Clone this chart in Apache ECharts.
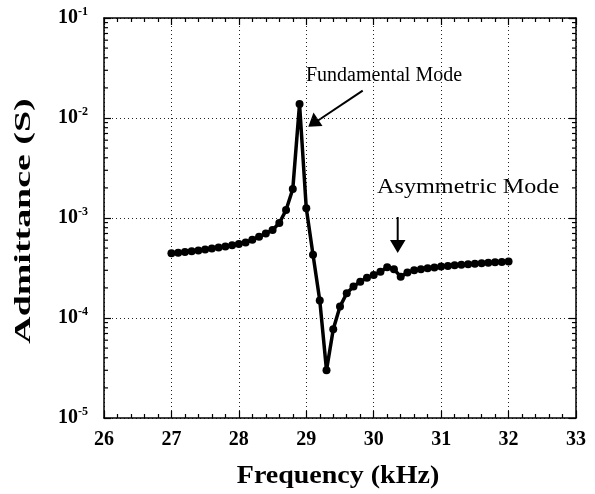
<!DOCTYPE html>
<html><head><meta charset="utf-8">
<script src="https://cdn.jsdelivr.net/npm/echarts@6/dist/echarts.min.js"></script>
<style>html,body{margin:0;padding:0;background:#fff}#c{width:595px;height:494px}</style>
</head><body><div id="c"></div>
<script>
const freq = [27.0,27.1,27.2,27.3,27.4,27.5,27.6,27.7,27.8,27.9,
  28.0,28.1,28.2,28.3,28.4,28.5,28.6,28.7,28.8,28.9,
  29.0,29.1,29.2,29.3,29.4,29.5,29.6,29.7,29.8,29.9,
  30.0,30.1,30.2,30.3,30.4,30.5,30.6,30.7,30.8,30.9,
  31.0,31.1,31.2,31.3,31.4,31.5,31.6,31.7,31.8,31.9,32.0];
const admittance = [4.43e-4,4.50e-4,4.57e-4,4.65e-4,4.74e-4,4.84e-4,4.95e-4,5.07e-4,5.20e-4,5.33e-4,
  5.48e-4,5.70e-4,6.05e-4,6.50e-4,7.00e-4,7.60e-4,8.90e-4,1.20e-3,1.95e-3,1.38e-2,
  1.25e-3,4.30e-4,1.50e-4,3.00e-5,7.70e-5,1.30e-4,1.77e-4,2.06e-4,2.31e-4,2.53e-4,
  2.69e-4,2.90e-4,3.21e-4,3.07e-4,2.59e-4,2.85e-4,3.00e-4,3.08e-4,3.15e-4,3.20e-4,
  3.27e-4,3.32e-4,3.37e-4,3.41e-4,3.45e-4,3.49e-4,3.53e-4,3.57e-4,3.60e-4,3.63e-4,3.67e-4];
const xTicks = [26,27,28,29,30,31,32,33];
const yDecades = [-5,-4,-3,-2,-1];
const xTitle = 'Frequency (kHz)';
const yTitle = 'Admittance (S)';
const noteFund = 'Fundamental Mode';
const noteAsym = 'Asymmetric Mode';

const serif = '"Liberation Serif","Times New Roman",serif';
const minorY = [];
for (let e = yDecades[0]; e < yDecades[yDecades.length-1]; e++) {
  for (let k = 2; k <= 9; k++) minorY.push(k * Math.pow(10, e));
}
const chart = echarts.init(document.getElementById('c'));
const axisCommon = {
  axisLine:{show:true,lineStyle:{color:'#000',width:1.5}},
  axisTick:{show:true,inside:true,length:7,lineStyle:{color:'#000',width:1.2}}
};
chart.setOption({
  animation:false,
  grid:{left:104,right:19,top:18,bottom:76},
  xAxis:[
    Object.assign({type:'value',min:xTicks[0],max:xTicks[xTicks.length-1],interval:1,position:'bottom',
      minorTick:{show:true,splitNumber:5,length:4,lineStyle:{color:'#000',width:1.2}},
      axisLabel:{color:'#000',fontFamily:serif,fontWeight:'bold',fontSize:20,margin:12},
      splitLine:{show:true,lineStyle:{color:'#222',type:[1,3],width:1}}},axisCommon),
    Object.assign({type:'value',min:xTicks[0],max:xTicks[xTicks.length-1],interval:1,position:'top',
      minorTick:{show:true,splitNumber:5,length:4,lineStyle:{color:'#000',width:1.2}},
      axisLabel:{show:false},splitLine:{show:false}},axisCommon)
  ],
  yAxis:[
    Object.assign({type:'log',logBase:10,min:Math.pow(10,yDecades[0]),max:Math.pow(10,yDecades[yDecades.length-1]),position:'left',
      axisLabel:{margin:16,formatter:function(v){const e=Math.round(Math.log10(v));return '{b|10}{s|'+e+'}';},
        rich:{b:{color:'#000',fontFamily:serif,fontWeight:'bold',fontSize:20},
              s:{color:'#000',fontFamily:serif,fontWeight:'bold',fontSize:12,verticalAlign:'top',padding:[0,0,12,0]}}},
      splitLine:{show:true,lineStyle:{color:'#222',type:[1,3],width:1}}},axisCommon),
    Object.assign({type:'log',logBase:10,min:Math.pow(10,yDecades[0]),max:Math.pow(10,yDecades[yDecades.length-1]),position:'right',
      axisLabel:{show:false},splitLine:{show:false}},axisCommon)
  ],
  series:[
    {type:'custom',xAxisIndex:0,yAxisIndex:0,silent:true,clip:false,z:5,
     data:minorY.map(v=>[xTicks[0],v]),
     renderItem:function(params,api){
       const v=api.value(1);
       const pl=api.coord([xTicks[0],v]);
       const pr=api.coord([xTicks[xTicks.length-1],v]);
       return {type:'group',children:[
         {type:'line',shape:{x1:pl[0],y1:pl[1],x2:pl[0]+4,y2:pl[1]},style:{stroke:'#000',lineWidth:1.2}},
         {type:'line',shape:{x1:pr[0],y1:pr[1],x2:pr[0]-4,y2:pr[1]},style:{stroke:'#000',lineWidth:1.2}}
       ]};
     }},
    {type:'line',xAxisIndex:0,yAxisIndex:0,data:freq.map((f,i)=>[f,admittance[i]]),z:3,
     symbol:'circle',symbolSize:8,showSymbol:true,
     lineStyle:{color:'#000',width:3.5},itemStyle:{color:'#000'}}
  ],
  graphic:[
    {type:'text',x:24,y:221,rotation:Math.PI/2,scaleX:1.58,
     style:{text:yTitle,font:'bold 24px '+serif,fill:'#000',align:'center',verticalAlign:'middle'}},
    {type:'text',x:338,y:477,scaleX:1.12,
     style:{text:xTitle,font:'bold 25px '+serif,fill:'#000',align:'center',verticalAlign:'middle'}},
    {type:'text',x:306,y:76,
     style:{text:noteFund,font:'20px '+serif,fill:'#000',align:'left',verticalAlign:'middle'}},
    {type:'text',x:377,y:187,scaleX:1.1,
     style:{text:noteAsym,font:'22px '+serif,fill:'#000',align:'left',verticalAlign:'middle'}},
    {type:'line',shape:{x1:362.7,y1:90.7,x2:318,y2:120.5},style:{stroke:'#000',lineWidth:2}},
    {type:'polygon',shape:{points:[[308.3,126.7],[313.5,112.5],[322.5,126]]},style:{fill:'#000'}},
    {type:'line',shape:{x1:397.7,y1:217,x2:397.7,y2:242},style:{stroke:'#000',lineWidth:2}},
    {type:'polygon',shape:{points:[[390,240],[405.5,240],[397.7,253]]},style:{fill:'#000'}}
  ]
});
</script></body></html>
